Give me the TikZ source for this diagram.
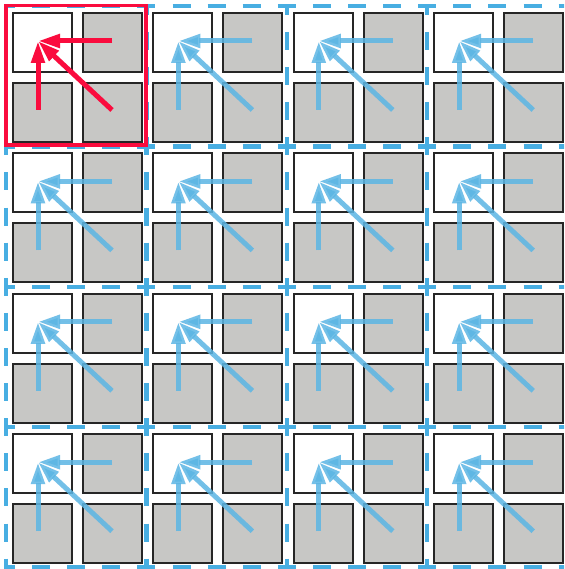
\documentclass[tikz,border=0pt]{standalone}
\usetikzlibrary{arrows.meta}
\definecolor{gridblue}{RGB}{72,174,226}
\definecolor{arrowblue}{RGB}{92,182,228}
\definecolor{hlred}{RGB}{250,12,62}
\definecolor{cellgray}{RGB}{199,199,197}
\begin{document}
\begin{tikzpicture}[x=1pt,y=-1pt,
  cell/.style={draw=black!85,line width=2pt,fill=cellgray},
  freecell/.style={draw=black!85,line width=2pt,fill=white},
  gridline/.style={draw=gridblue,line width=4.5pt,dash pattern=on 18pt off 17.1pt,dash phase=9pt},
  arr/.style={line width=5pt,-{Triangle[length=22pt,width=13pt]}},
  bluearr/.style={arr,draw=arrowblue,fill=arrowblue,opacity=0.85},
  redarr/.style={arr,draw=hlred,fill=hlred},
  redbox/.style={draw=hlred,line width=3.5pt}]
\useasboundingbox (0,0) rectangle (564,569);
\clip (0,0) rectangle (564,569);
\fill[white] (0,0) rectangle (564,569);
% cells
\foreach \i in {0,...,3}{
  \foreach \j in {0,...,3}{
    \pgfmathsetmacro{\ox}{6+140.4*\i}
    \pgfmathsetmacro{\oy}{6+140.4*\j}
    \node[freecell,minimum size=59pt,inner sep=0pt,anchor=north west] (a\i\j) at (\ox+6,\oy+6) {};
    \node[cell,minimum size=59pt,inner sep=0pt,anchor=north west] (b\i\j) at (\ox+76,\oy+6) {};
    \node[cell,minimum size=59pt,inner sep=0pt,anchor=north west] (c\i\j) at (\ox+6,\oy+76) {};
    \node[cell,minimum size=59pt,inner sep=0pt,anchor=north west] (d\i\j) at (\ox+76,\oy+76) {};
  }
}
% dashed grid lines
\foreach \k in {0,...,4}{
  \pgfmathsetmacro{\p}{6+140.4*\k}
  \coordinate (hl\k) at (6,\p);
  \coordinate (hr\k) at (580,\p);
  \coordinate (vt\k) at (\p,6);
  \coordinate (vb\k) at (\p,580);
  \draw[gridline] (hl\k) -- (hr\k);
  \draw[gridline] (vt\k) -- (vb\k);
}
% arrows
\foreach \i in {0,...,3}{
  \foreach \j in {0,...,3}{
    \pgfmathsetmacro{\ox}{6+140.4*\i}
    \pgfmathsetmacro{\oy}{6+140.4*\j}
    \coordinate (t\i\j) at (\ox+32,\oy+35);
    \coordinate (sh\i\j) at (\ox+106,\oy+35);
    \coordinate (sv\i\j) at (\ox+32,\oy+104);
    \coordinate (sd\i\j) at (\ox+106,\oy+104);
    \pgfmathtruncatemacro{\isred}{(\i==0)&&(\j==0)}
    \ifnum\isred=1
      \draw[redarr] (sh\i\j) -- (t\i\j);
      \draw[redarr] (sv\i\j) -- (t\i\j);
      \draw[redarr] (sd\i\j) -- (t\i\j);
    \else
      \draw[bluearr] (sh\i\j) -- (t\i\j);
      \draw[bluearr] (sv\i\j) -- (t\i\j);
      \draw[bluearr] (sd\i\j) -- (t\i\j);
    \fi
  }
}
% highlighted block
\coordinate (rb1) at (6.2,5.5);
\coordinate (rb2) at (146.2,145.2);
\draw[redbox] (rb1) rectangle (rb2);
\end{tikzpicture}
\end{document}
